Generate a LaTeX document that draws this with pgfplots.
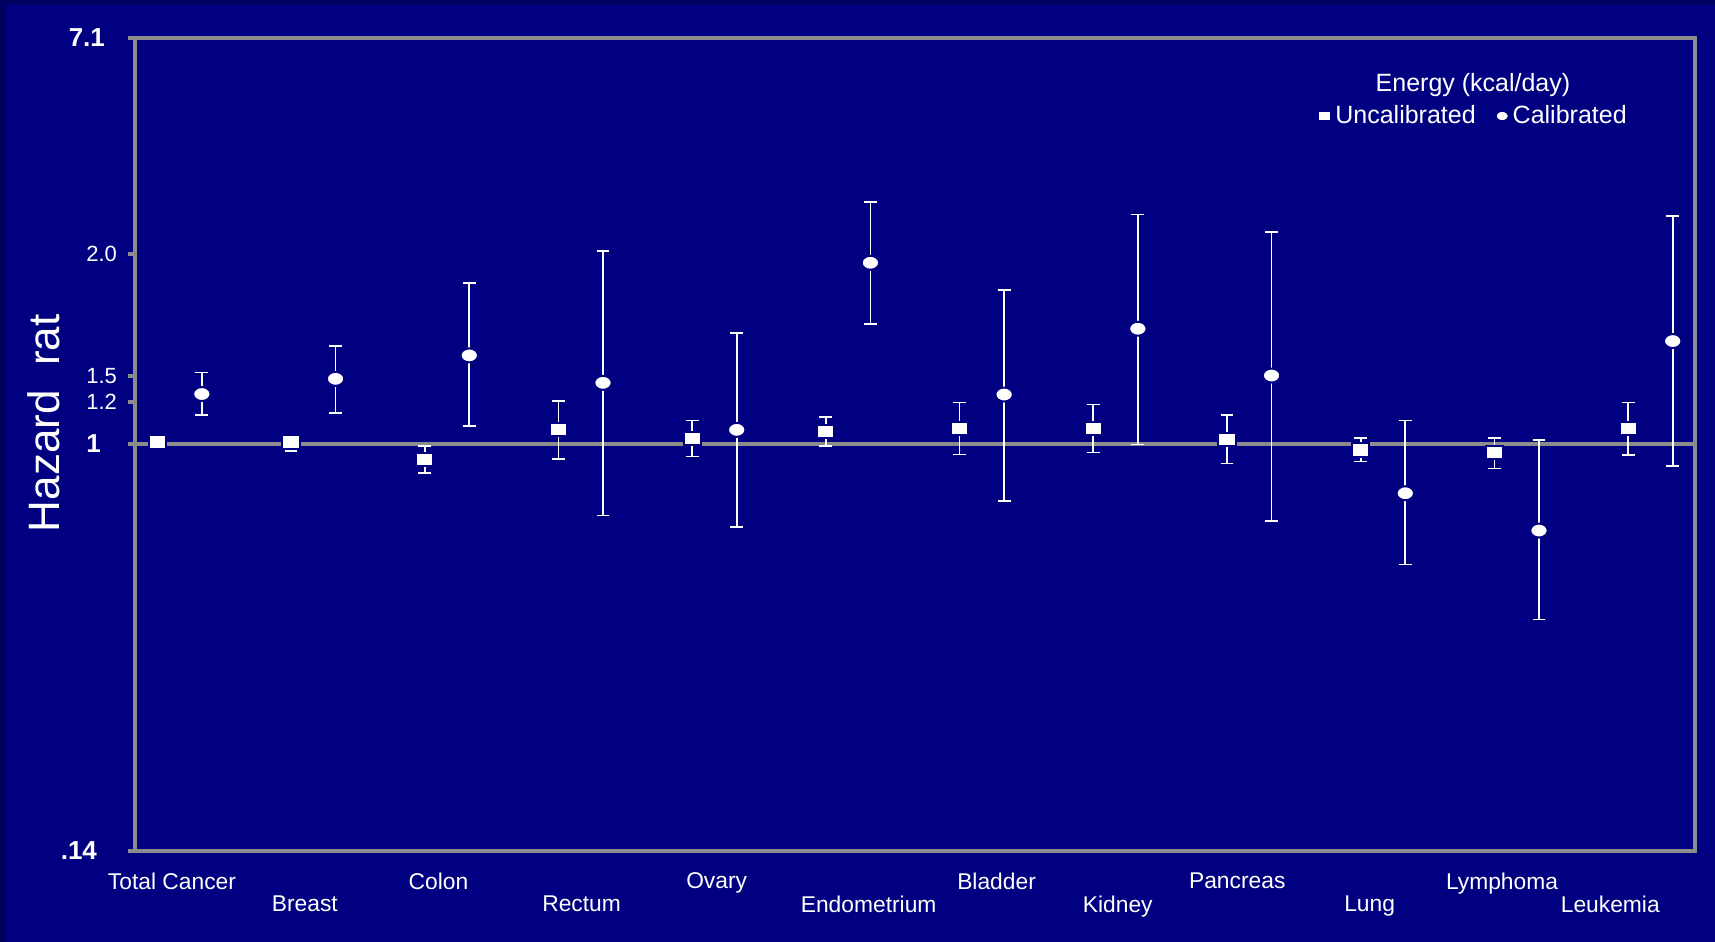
\documentclass[border=0pt]{standalone}
\usepackage{pgfplots}
\usepackage{pgfplotstable}
\pgfplotsset{compat=1.18}
\usepackage{fontspec}
\setmainfont{Liberation Sans}
\definecolor{bg}{RGB}{0,0,128}
\definecolor{bgdark}{RGB}{0,0,96}
\definecolor{frame}{RGB}{140,140,140}

\pgfplotstableread{
x  y     lo    hi
1  1.009 0.995 1.025
4  1.009 0.967 1.040
7  0.929 0.868 0.989
10 1.072 0.929 1.230
13 1.028 0.940 1.120
16 1.062 0.989 1.140
19 1.079 0.950 1.220
22 1.079 0.959 1.210
25 1.020 0.910 1.151
28 0.971 0.918 1.028
31 0.959 0.888 1.028
34 1.079 0.949 1.220
}\unc

\pgfplotstableread{
x  y     lo    hi
2  1.272 1.149 1.412
5  1.369 1.160 1.604
8  1.533 1.090 2.174
11 1.343 0.708 2.541
14 1.070 0.669 1.710
17 2.398 1.783 3.219
20 1.269 0.759 2.105
23 1.744 0.997 3.028
26 1.391 0.690 2.785
29 0.788 0.558 1.120
32 0.658 0.428 1.020
35 1.643 0.898 3.005
}\cal

\begin{document}
\begin{tikzpicture}
\fill[bgdark] (-67.5pt,-45.5pt) rectangle (790pt,425.5pt);
\fill[bg] (-64.5pt,-45.5pt) rectangle (790pt,422.8pt);
\useasboundingbox (-67.5pt,-45.5pt) rectangle (790pt,425.5pt);
\begin{axis}[
  scale only axis, width=780pt, height=406.5pt,
  at={(0,0)}, anchor=south west,
  clip=false,
  ymode=log, ymin=0.14, ymax=7.1, xmin=0.5, xmax=35.5,
  axis line style={frame, line width=2pt},
  /pgf/number format/assume math mode=true,
  tick align=outside,
  major tick length=3.5pt,
  yminorticks=false, xminorticks=false,
  ytick pos=left,
  xtick style={draw=none},
  ytick style={frame, line width=2pt},
  xtick={1.33,7.31,13.55,19.83,25.23,31.17},
  xticklabels={Total Cancer,Colon,Ovary,Bladder,Pancreas,Lymphoma},
  extra x ticks={4.31,10.52,16.96,22.55,28.2,33.6},
  extra x tick labels={Breast,Rectum,Endometrium,Kidney,Lung,Leukemia},
  extra x tick style={xticklabel style={yshift=-11.5pt}},
  xticklabel style={white, font=\fontsize{11.4}{13}\selectfont, yshift=-4pt},
  ytick={0.14,1,7.1},
  yticklabels={{.14\rule{4pt}{0pt}},{1\rule{2pt}{0pt}},{7.1}},
  yticklabel style={white, font=\bfseries\fontsize{13}{15}\selectfont, xshift=-8pt},
  extra y ticks={1.224,1.385,2.501},
  extra y tick labels={1.2,1.5,2.0},
  extra y tick style={tick style={white, line width=0.6pt}, yticklabel style={font=\fontsize{11}{13}\selectfont, xshift=6pt}},
  legend style={draw=none, fill=none, text=white, font=\fontsize{12.5}{15}\selectfont,
    legend columns=2, at={(rel axis cs:0.8585,0.904)}, anchor=center,
    /tikz/every even column/.append style={column sep=8pt}},
  legend image code/.code={\draw[mark repeat=2,mark phase=2,#1,mark size=2.6pt] plot coordinates {(0cm,0cm) (0.19cm,0cm) (0.38cm,0cm)};},
]
\addplot[frame, line width=2pt, forget plot] coordinates {(0.5,1) (35.5,1)};
\addplot[only marks, mark=square*, mark size=3.3pt,
  mark options={fill=white, draw=bg, line width=1pt, xscale=1.3},
  error bars/.cd, y dir=both, y explicit,
  error bar style={white, line width=0.8pt},
  error mark options={rotate=90, white, mark size=3.2pt, line width=0.8pt}]
  table[x=x, y=y, y error plus expr=\thisrow{hi}-\thisrow{y}, y error minus expr=\thisrow{y}-\thisrow{lo}] {\unc};
\addlegendentry{Uncalibrated}
\addplot[only marks, mark=*, mark size=3.5pt,
  mark options={fill=white, draw=bg, line width=1pt, xscale=1.25},
  error bars/.cd, y dir=both, y explicit,
  error bar style={white, line width=0.8pt},
  error mark options={rotate=90, white, mark size=3.2pt, line width=0.8pt}]
  table[x=x, y=y, y error plus expr=\thisrow{hi}-\thisrow{y}, y error minus expr=\thisrow{y}-\thisrow{lo}] {\cal};
\addlegendentry{Calibrated}
\node[white, font=\fontsize{12.5}{15}\selectfont] at (rel axis cs:0.8577,0.942) {Energy (kcal/day)};
\node[xshift=-45.5pt, rotate=90, white, font=\fontsize{22}{26}\selectfont] at (rel axis cs:0,0.526) {Hazard\ \ rat};
\end{axis}
\end{tikzpicture}
\end{document}
